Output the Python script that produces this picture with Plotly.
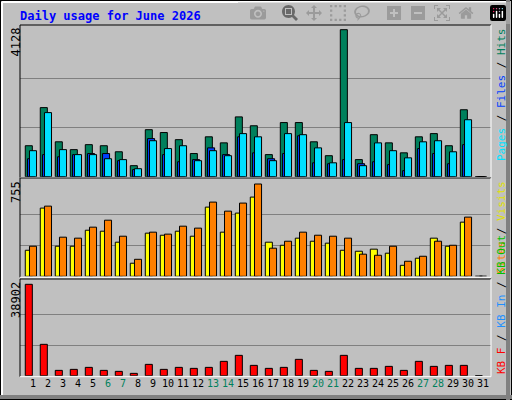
import plotly.graph_objects as go

days = list(range(1, 32))
weekend = [6, 7, 13, 14, 20, 21, 27, 28]

# (day 31 has no data yet)
hits = [870, 1940, 980, 760, 900, 870, 700, 310, 1320, 1240, 1040, 650, 1120, 950, 1680,
        1430, 620, 1520, 1520, 980, 590, 4128, 480, 1180, 950, 670, 1120, 1210, 870, 1880, 0]
files = [505, 620, 560, 620, 650, 650, 450, 200, 1070, 620, 420, 480, 810, 620, 1120,
         670, 505, 650, 1150, 390, 365, 480, 365, 420, 340, 170, 790, 650, 365, 900, 0]
pages = [730, 1800, 760, 620, 620, 505, 480, 225, 1010, 790, 870, 450, 730, 590, 1210,
         1120, 450, 1210, 1180, 810, 390, 1520, 310, 950, 730, 530, 980, 1010, 700, 1600, 0]
visits = [213, 558, 246, 246, 377, 369, 279, 107, 353, 336, 369, 328, 566, 361, 517,
          648, 279, 254, 312, 287, 271, 213, 205, 222, 189, 90, 148, 312, 246, 443, 0]
sites = [246, 574, 320, 312, 402, 459, 328, 139, 361, 345, 410, 394, 607, 533, 599,
         755, 230, 287, 361, 336, 328, 312, 181, 172, 246, 123, 164, 287, 254, 484, 0]
kbytes = [38902, 13348, 2272, 2698, 3550, 2272, 1846, 994, 4828, 2698, 3550, 3124, 3550, 6106, 8662,
          4402, 3124, 3550, 6958, 2272, 1846, 8662, 3124, 3124, 3976, 2272, 6106, 3976, 4402, 4402, 0]

W, H = 512, 400
def py(p):
    return 1 - p / H
def px(p):
    return p / W

line = dict(color="black", width=1)
fig = go.Figure()
def bar(y, color, off, ax):
    fig.add_trace(go.Bar(x=days, y=y, marker=dict(color=color, line=line), width=0.47,
                         offset=off - 0.235, xaxis="x" + ax, yaxis="y" + ax, showlegend=False))

bar(hits, "#00805C", -0.28, "")
bar(files, "#0040FF", -0.13, "")
bar(pages, "#00E0FF", 0, "")
bar(visits, "#FFFF00", -0.28, "2")
bar(sites, "#FF8000", 0, "2")
bar(kbytes, "#FF0000", -0.28, "3")

xr = [0.133, 31.53]
xdom = [px(20), px(491)]
ticktext = [f"<span style='color:#00805C'>{d}</span>" if d in weekend else str(d) for d in days]
common_x = dict(range=xr, domain=xdom, showgrid=False, zeroline=False, fixedrange=True)
mono = "DejaVu Sans Mono"

panels = [("", 4128, 4232, 26, 176.7), ("2", 755, 796, 179, 276.3), ("3", 38902, 40733, 280, 375.7)]
layout = {}
for ax, top, rng, ytop, ybot in panels:
    layout["xaxis" + ax] = dict(common_x, anchor="y" + ax, showticklabels=(ax == "3"),
                                tickvals=days, ticktext=ticktext, ticks="", tickangle=0,
                                automargin=False,
                                tickfont=dict(family=mono, size=10, color="black"))
    layout["yaxis" + ax] = dict(range=[0, rng], domain=[py(ybot), py(ytop)], anchor="x" + ax,
                                tickvals=[top / 3, 2 * top / 3], showticklabels=False,
                                gridcolor="#808080", gridwidth=1, zeroline=False)

fig.update_layout(width=W, height=H, margin=dict(l=0, r=0, t=0, b=0),
                  paper_bgcolor="#C0C0C0", plot_bgcolor="#C0C0C0", barmode="overlay",
                  **layout)

shapes = [dict(type="rect", xref="paper", yref="paper", x0=0, x1=1, y0=0, y1=1,
               line=dict(color="black", width=2)),
          dict(type="line", xref="paper", yref="paper", x0=px(2), x1=px(2), y0=py(2), y1=py(395),
               line=dict(color="white", width=2)),
          dict(type="line", xref="paper", yref="paper", x0=px(2), x1=px(509), y0=py(2), y1=py(2),
               line=dict(color="white", width=2)),
          dict(type="line", xref="paper", yref="paper", x0=0, x1=1, y0=py(397), y1=py(397),
               line=dict(color="#808080", width=4)),
          dict(type="line", xref="paper", yref="paper", x0=px(508), x1=px(508), y0=0, y1=1,
               line=dict(color="#808080", width=4))]
for ax, top, rng, ytop, ybot in panels:
    shapes += [dict(type="line", xref="paper", yref="paper", x0=px(20), x1=px(491), y0=py(ytop - 1), y1=py(ytop - 1), line=line),
               dict(type="line", xref="paper", yref="paper", x0=px(20), x1=px(20), y0=py(ytop - 1), y1=py(ybot + 1), line=line),
               dict(type="line", xref="paper", yref="paper", x0=px(20), x1=px(491), y0=py(ybot + 1), y1=py(ybot + 1), line=dict(color="white", width=1)),
               dict(type="line", xref="paper", yref="paper", x0=px(491), x1=px(491), y0=py(ytop - 1), y1=py(ybot + 1), line=dict(color="white", width=1))]
fig.update_layout(shapes=shapes)

def note(text, x, y, size=11, angle=0, xa="left", ya="top", color="black", bold=False):
    fig.add_annotation(text=text, x=px(x), y=py(y), xref="paper", yref="paper", showarrow=False,
                       textangle=angle, xanchor=xa, yanchor=ya,
                       font=dict(family=mono, size=size, color=color, weight="bold" if bold else "normal"))

note("Daily usage for June 2026", 18, 7, size=12, color="#0000FF", bold=True)
note("4128", 7, 26, size=12, angle=-90)
note("755", 7, 179, size=12, angle=-90)
note("38902", 7, 280, size=12, angle=-90)

s = "<span style='color:black'> / </span>"
note("<span style='color:#00E0FF'>Pages</span>" + s + "<span style='color:#0040FF'>Files</span>" + s +
     "<span style='color:#00805C'>Hits</span>", 493, 26, angle=-90)
note("<span style='color:#FF8000'>Sites</span>" + s + "<span style='color:#E0E000'>Visits</span>",
     493, 179, angle=-90)
note("<span style='color:#FF0000'>KB F</span>" + s + "<span style='color:#1E90FF'>KB In</span>" + s +
     "<span style='color:#00C000'>KB Out</span>", 493, 376, angle=-90, ya="bottom")

fig.write_html("out.html", post_script="document.body.style.margin='0';")
